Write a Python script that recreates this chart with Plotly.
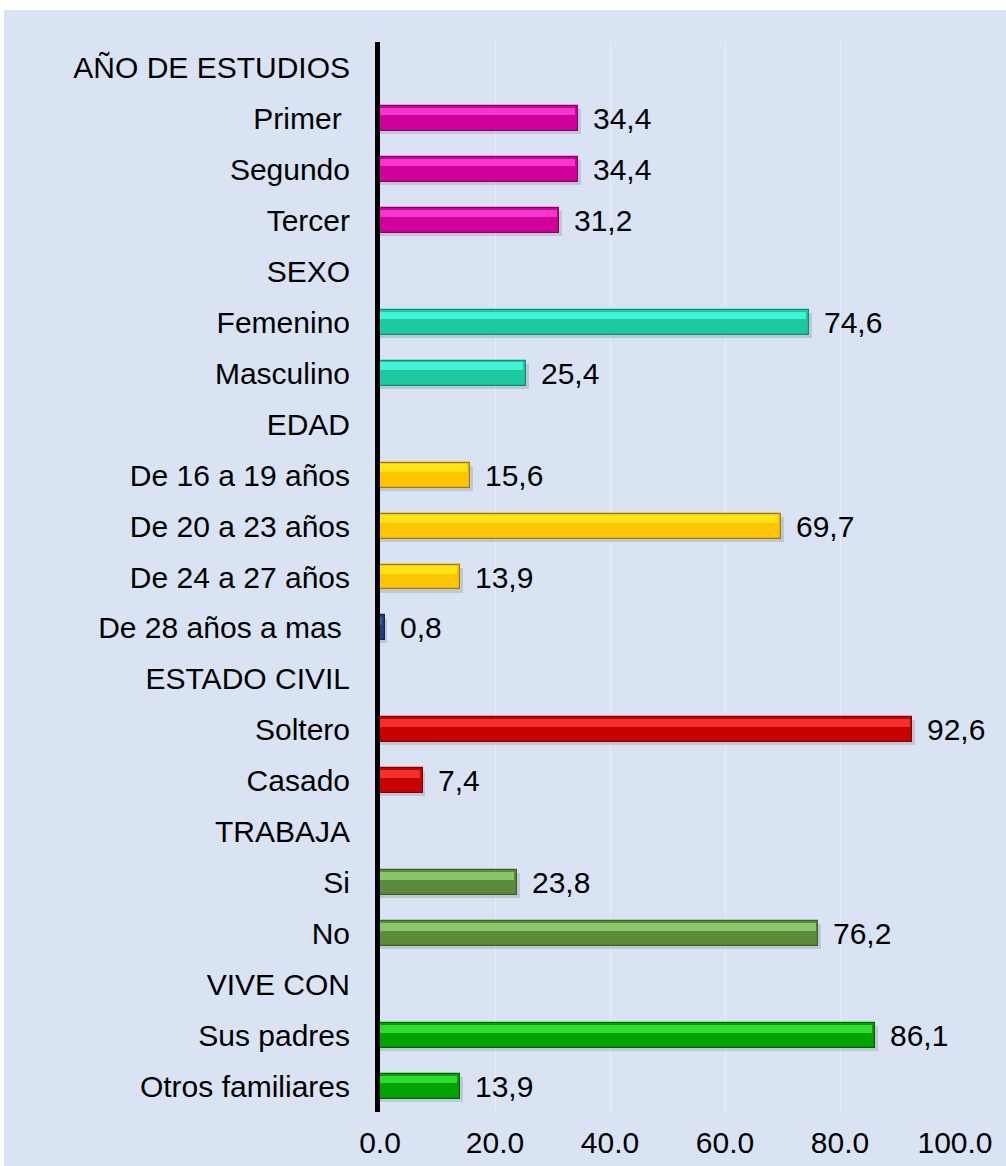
import plotly.graph_objects as go

# categorias (los encabezados de grupo no llevan barra)
categorias = [
    "AÑO DE ESTUDIOS", "Primer ", "Segundo", "Tercer",
    "SEXO", "Femenino", "Masculino",
    "EDAD", "De 16 a 19 años", "De 20 a 23 años", "De 24 a 27 años", "De 28 años a mas ",
    "ESTADO CIVIL", "Soltero", "Casado",
    "TRABAJA", "Si", "No",
    "VIVE CON", "Sus padres", "Otros familiares",
]
porcentajes = [
    None, 34.4, 34.4, 31.2,
    None, 74.6, 25.4,
    None, 15.6, 69.7, 13.9, 0.8,
    None, 92.6, 7.4,
    None, 23.8, 76.2,
    None, 86.1, 13.9,
]
# color base, brillo superior, borde
colores = [
    None, "#D1009B", "#D1009B", "#D1009B",
    None, "#1CC9A0", "#1CC9A0",
    None, "#FFC400", "#FFC400", "#FFC400", "#1F3F80",
    None, "#C80000", "#C80000",
    None, "#5C8C3A", "#5C8C3A",
    None, "#00A300", "#00A300",
]
brillos = [
    None, "#FF45D6", "#FF45D6", "#FF45D6",
    None, "#48FFE6", "#48FFE6",
    None, "#FFEB1A", "#FFEB1A", "#FFEB1A", "#3A63B0",
    None, "#FF3B3B", "#FF3B3B",
    None, "#95D575", "#95D575",
    None, "#3BEB3B", "#3BEB3B",
]
bordes = [
    None, "#8E0068", "#8E0068", "#8E0068",
    None, "#0F8F70", "#0F8F70",
    None, "#A67C00", "#A67C00", "#A67C00", "#10254F",
    None, "#8A0000", "#8A0000",
    None, "#3D5E26", "#3D5E26",
    None, "#006600", "#006600",
]
xticks = [0, 20, 40, 60, 80, 100]

# espacio final no separable para "Primer " y "De 28 años a mas "
etiquetas = [c[:-1] + "\u00a0" if c.endswith(" ") else c for c in categorias]

L, R, T, B = 380, 51, 42, 54
W, H = 1006, 1166
pw, ph = W - L - R, H - T - B

FONT = "Arial, Liberation Sans, sans-serif"
BAR_W = 0.49
NADA = "rgba(0,0,0,0)"

fig = go.Figure()

# sombra
fig.add_trace(go.Bar(
    y=etiquetas, x=[v + 0.5 if v else None for v in porcentajes], orientation="h",
    width=BAR_W, offset=-BAR_W / 2 + 0.06,
    marker=dict(color=["rgba(60,70,90,0.18)" if c else NADA for c in colores], line=dict(width=0)),
    hoverinfo="skip", showlegend=False,
))
# barra principal
fig.add_trace(go.Bar(
    y=etiquetas, x=porcentajes, orientation="h",
    width=BAR_W, offset=-BAR_W / 2,
    marker=dict(color=[c or NADA for c in colores],
                line=dict(color=[c or NADA for c in bordes], width=1.2)),
    hoverinfo="skip", showlegend=False,
))
# franja brillante superior (efecto bisel)
fig.add_trace(go.Bar(
    y=etiquetas, x=[v - 0.45 if v else None for v in porcentajes], orientation="h",
    width=0.15, offset=-BAR_W / 2 + 0.035,
    marker=dict(color=[c or NADA for c in brillos], line=dict(width=0), opacity=0.8),
    hoverinfo="skip", showlegend=False,
))

# valores con coma decimal
for cat, v in zip(etiquetas, porcentajes):
    if v is None:
        continue
    fig.add_annotation(
        x=v, y=cat, text=f"{v:.1f}".replace(".", ","),
        showarrow=False, xanchor="left", xshift=13,
        font=dict(family=FONT, size=30, color="black"),
    )

# fondo azul claro
fig.add_shape(
    type="rect", xref="paper", yref="paper", layer="below",
    x0=(4 - L) / pw, x1=(W + 5 - L) / pw,
    y0=-(B + 5) / ph, y1=(H - 10 - B) / ph,
    fillcolor="#DAE3F3", line=dict(width=0),
)

fig.update_layout(
    width=W, height=H,
    margin=dict(l=L, r=R, t=T, b=B, pad=0),
    paper_bgcolor="white", plot_bgcolor=NADA,
    barmode="overlay", bargap=0,
    font=dict(family=FONT, size=30, color="black"),
    xaxis=dict(
        range=[0, 100], tickvals=xticks, tickformat=".1f",
        showgrid=True, gridcolor="rgba(255,255,255,0.35)", gridwidth=1,
        zeroline=False, showline=False, ticks="", automargin=False,
        ticklabelstandoff=10, tickfont=dict(size=30),
    ),
    yaxis=dict(
        type="category", categoryorder="array", categoryarray=etiquetas,
        range=[len(etiquetas) - 0.5, -0.5],
        showgrid=False, zeroline=False, automargin=False,
        showline=True, linecolor="black", linewidth=5,
        ticks="", ticklabelstandoff=19, tickfont=dict(size=30),
    ),
)

fig.write_html("out.html", config={"displayModeBar": False},
               post_script="document.body.style.margin='0';")
